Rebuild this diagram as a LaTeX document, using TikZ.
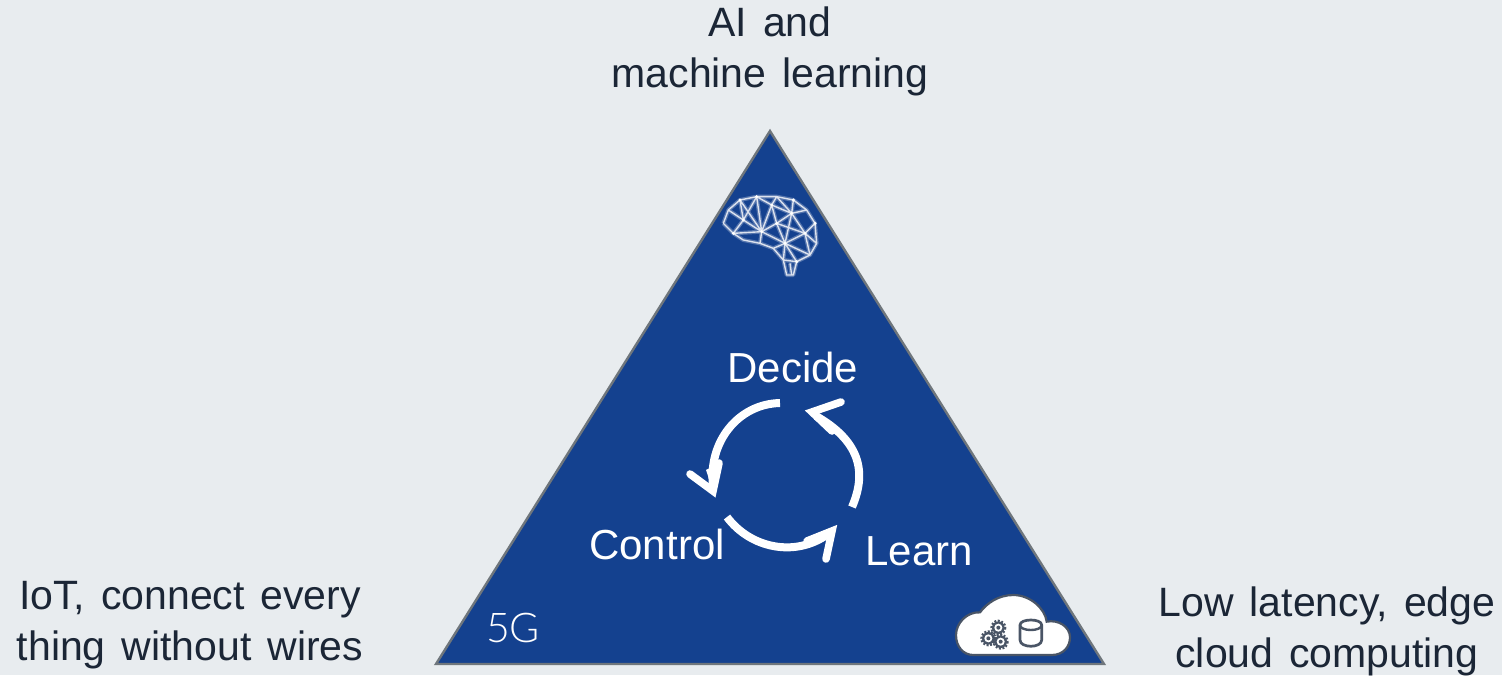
\documentclass[tikz,border=0pt]{standalone}
\usepackage{fontspec}
\setmainfont[WordSpace=1.4]{Liberation Sans}
\newfontfamily\wordfont{Liberation Sans}
\newfontfamily\thinfont{Lato Light}
\definecolor{bgc}{HTML}{E8ECEF}
\definecolor{triblue}{HTML}{14418F}
\definecolor{triedge}{HTML}{6F767C}
\definecolor{inkc}{HTML}{1B2636}
\definecolor{cloudink}{HTML}{4A5566}
\tikzset{
  caption/.style={text=inkc,align=center,font=\fontsize{41}{51}\selectfont,inner sep=0pt},
  loopword/.style={text=white,font=\wordfont\fontsize{42}{50}\selectfont,inner sep=0pt,anchor=base},
  looparc/.style={draw=white,line width=8pt},
  loophead/.style={draw=white,line width=7.6pt,line cap=round,line join=miter,miter limit=10},
  brainline/.style={draw=white!85!triblue,line width=1.4pt,line join=round},
  brainhalo/.style={draw=white,opacity=.28,line width=4pt,line join=round},
  cogtooth/.style={draw=cloudink,line width=2.4pt,dash pattern=on 1.9pt off 1.6pt},
}
\newcommand{\brainpath}{
  (70,130)--(85,90)--(120,60)--(170,50)--(230,50)--(280,60)--(320,90)--(345,130)--(350,190)--(330,225)--(290,245)--(280,285)--(260,285)--(250,240)--(220,205)--(180,190)--(130,180)--(100,160)--(70,130)
  (85,90)--(130,120)--(120,60)--(185,155)--(170,50)--(130,120)--(100,160)--(185,155)--(130,120)
  (170,50)--(215,75)--(230,50)--(275,100)--(280,60) (215,75)--(185,155)--(230,130)--(215,75)--(275,100)--(230,130)--(255,190)--(185,155)
  (275,100)--(320,90) (275,100)--(315,160)--(345,130) (230,130)--(315,160)--(255,190)--(220,205)
  (315,160)--(350,190) (315,160)--(330,225)--(255,190)--(290,245)--(250,240)--(255,190)
  (275,100)--(255,190) (180,190)--(185,155) (275,285)--(270,250)
}
\begin{document}
\begin{tikzpicture}[x=1pt,y=-1pt]
\useasboundingbox (0,0) rectangle (1502,675);
\fill[bgc] (0,0) rectangle (1502,675);
% triangle
\coordinate (apex) at (770,131);
\coordinate (bl) at (436,664);
\coordinate (br) at (1104,664);
\draw[fill=triblue,draw=triedge,line width=2.4pt,line join=miter] (apex)--(br)--(bl)--cycle;
% captions
\node[caption] (top) at (770,51) {AI and\\machine learning};
\node[caption] (left) at (190,625) {IoT, connect every\\thing without wires};
\node[caption] (right) at (1327,631) {Low latency, edge\\cloud computing};
% loop words
\node[loopword] (decide) at (793,382) {Decide};
\node[loopword] (control) at (657,559) {Control};
\node[loopword] (learn) at (919,565) {Learn};
\node[text=white,font=\thinfont\fontsize{41}{50}\selectfont,inner sep=0pt,anchor=base] (fiveg) at (513,642) {5G};
% loop arrows
\coordinate (a1s) at (780,403);\coordinate (a1t) at (713,491);
\coordinate (a1b) at (690,474);\coordinate (a1c) at (719,463);
\coordinate (a1n) at (706,470);
\coordinate (a2s) at (727,517);\coordinate (a2t) at (832,531);
\coordinate (a2b) at (807,541);\coordinate (a2c) at (826,559);
\coordinate (a2n) at (818,534);
\coordinate (a3s) at (852,507);\coordinate (a3t) at (812,412);
\coordinate (a3b) at (841,402);\coordinate (a3c) at (832,431);
\coordinate (a3n) at (828,420);
\draw[looparc] (a1s) .. controls (738,404) and (708,442) .. (713,486);
\draw[looparc] (a2s) .. controls (750,548) and (795,558) .. (828,534);
\draw[looparc] (a3s) .. controls (868,470) and (858,440) .. (816,416);
\draw[loophead] (a1b)--(a1t)--(a1c);
\draw[loophead] (a2b)--(a2t)--(a2c);
\draw[loophead] (a3b)--(a3t)--(a3c);
\fill[white] (a1t)--(a1n)--(a1c)--cycle;
\fill[white] (a2t)--(a2n)--(a2b)--cycle;
\fill[white] (a3t)--(a3n)--(a3c)--cycle;
% brain
\begin{scope}[shift={(700,180)},scale=1/3]
\path[brainhalo] \brainpath;
\path[brainline] \brainpath;
\foreach \bx/\by in {100/160,130/120,185/155,215/75,230/130,275/100,255/190,315/160,120/60,170/50,280/60,290/245,345/130}{
  \fill[white] (\bx,\by) circle (5);
}
\end{scope}
% cloud
\begin{scope}[shift={(930,580)},scale=1/3]
\draw[fill=white,draw=cloudink,line width=2.2pt]
 (130,225)--(365,225) .. controls (400,225) and (420,200) .. (420,172)
 .. controls (420,140) and (385,118) .. (350,125)
 .. controls (345,85) and (300,45) .. (250,45)
 .. controls (205,45) and (170,70) .. (150,97)
 .. controls (110,95) and (78,130) .. (78,165)
 .. controls (78,200) and (100,225) .. (130,225) -- cycle;
\foreach \cx/\cy in {205/143,175/175,212/185}{
  \fill[cloudink] (\cx,\cy) circle (19);
  \draw[cogtooth] (\cx,\cy) circle (20.5);
  \fill[white] (\cx,\cy) circle (12);
  \fill[cloudink] (\cx,\cy) circle (6);
}
\draw[cloudink,line width=2.7pt,fill=white]
 (270,135) -- (270,180) .. controls (270,205) and (335,205) .. (335,180) -- (335,135)
 .. controls (335,115) and (270,115) .. (270,135) -- cycle;
\draw[cloudink,line width=2.4pt] (270,135) .. controls (270,155) and (335,155) .. (335,135);
\end{scope}
\end{tikzpicture}
\end{document}
